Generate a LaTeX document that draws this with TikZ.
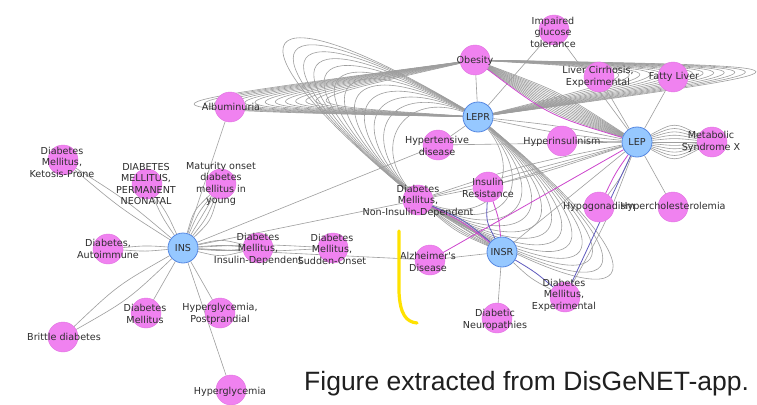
\documentclass[tikz,border=0pt]{standalone}
\usepackage{fontspec}
\newfontfamily\lblfont{DejaVu Sans}
\newfontfamily\capfont{Liberation Sans}
\usetikzlibrary{calc}
\pgfdeclarelayer{paper}
\pgfdeclarelayer{edgelayer}
\pgfsetlayers{paper,edgelayer,main}
\definecolor{disfill}{RGB}{240,130,240}
\definecolor{disline}{RGB}{225,115,225}
\definecolor{genefill}{RGB}{150,200,255}
\definecolor{geneline}{RGB}{85,135,225}
\definecolor{edgegray}{RGB}{158,158,158}
\definecolor{edgemag}{RGB}{205,70,205}
\definecolor{edgepur}{RGB}{95,90,190}
\definecolor{txt}{RGB}{45,45,45}
\definecolor{marker}{RGB}{255,226,0}

% several parallel edges between two nodes, bent by the given offsets (pt)
\newcommand\netbundle[4][edge]{%
  \foreach \k in {#4}{\draw[#1] (#2) .. controls ($(#2)!0.5!(#3)!\k pt!90:(#3)$) .. (#3);}}

\begin{document}
\begin{tikzpicture}[x=1pt,y=-1pt,
  dis/.style={circle,fill=disfill,draw=disline,line width=0.4pt,minimum size=30pt,inner sep=0pt},
  gene/.style={circle,fill=genefill,draw=geneline,line width=0.8pt,minimum size=30pt,inner sep=0pt,
    font=\lblfont\fontsize{9.6}{11.5}\selectfont,text=txt},
  lbl/.style={align=center,font=\lblfont\fontsize{9.6}{11.5}\selectfont,text=txt,inner sep=0pt},
  edge/.style={draw=edgegray,line width=0.6pt},
  magedge/.style={draw=edgemag,line width=0.8pt},
  puredge/.style={draw=edgepur,line width=0.8pt}]
\useasboundingbox (0,0) rectangle (757,404);
\begin{pgfonlayer}{paper}
  \fill[white] (0,0) rectangle (757,404);
\end{pgfonlayer}

% genes
\node[gene] (ins) at (183,248) {INS};
\node[gene] (insr) at (502,252) {INSR};
\node[gene] (lepr) at (478,117) {LEPR};
\node[gene] (lep) at (637,142) {LEP};

% diseases
\node[dis] (obes) at (475,60) {};
\node[dis] (igt) at (554,30) {};
\node[dis] (lcirr) at (599,77) {};
\node[dis] (fatty) at (673,77) {};
\node[dis] (mets) at (712,142) {};
\node[dis] (hypins) at (562,141) {};
\node[dis] (hypgon) at (599,207) {};
\node[dis] (hypchol) at (673,207) {};
\node[dis] (hyptens) at (438,145) {};
\node[dis] (insres) at (488,187) {};
\node[dis] (dmnid) at (418,200) {};
\node[dis] (alz) at (430,260) {};
\node[dis] (neuro) at (497,318) {};
\node[dis] (dmexp) at (565,297) {};
\node[dis] (dmso) at (333,248) {};
\node[dis] (dmid) at (258,248) {};
\node[dis] (mody) at (221,184) {};
\node[dis] (neon) at (147,184) {};
\node[dis] (keto) at (63,160) {};
\node[dis] (auto) at (108,249) {};
\node[dis] (brit) at (63,337) {};
\node[dis] (dm) at (146,313) {};
\node[dis] (hgpp) at (220,313) {};
\node[dis] (hg) at (231,390) {};
\node[dis] (albu) at (230,107) {};

\begin{pgfonlayer}{edgelayer}
  % INS neighbourhood
  \netbundle{ins}{keto}{-5,5}
  \netbundle{ins}{neon}{-3,3}
  \netbundle{ins}{mody}{-10,-5,0,5,10}
  \netbundle{ins}{dmid}{-9,-3,3,9}
  \netbundle{ins}{dmso}{-4,4}
  \netbundle{ins}{auto}{-3,3}
  \netbundle{ins}{brit}{-9,9}
  \draw[edge] (ins) -- (albu);
  \draw[edge] (ins) -- (hyptens);
  \draw[edge] (ins) -- (dmnid);
  \draw[edge] (ins) -- (alz);
  \draw[edge] (ins) -- (dm);
  \draw[edge] (ins) -- (hgpp);
  \draw[edge] (ins) -- (hg);
  % INSR neighbourhood
  \draw[edge] (alz) -- (insr);
  \draw[edge] (insr) -- (neuro);
  \netbundle{insr}{dmexp}{-5}
  \netbundle{dmnid}{insr}{-7,-5,-3,-1,1,3}
  % LEPR and LEP neighbourhood
  \draw[edge] (lepr) -- (obes);
  \draw[edge] (lepr) -- (hyptens);
  \draw[edge] (lepr) -- (igt);
  \netbundle{lepr}{lep}{-4,4}
  \netbundle{obes}{lep}{-14,-12,-10,-8,-6,-4,-2,0,2,4,6,8,10}
  \netbundle{lep}{mets}{-20,-16,-12,-8,-4,0,4,8,12,16,20}
  \draw[edge] (lep) -- (hypins);
  \draw[edge] (hyptens) -- (lep);
  \draw[edge] (lep) -- (fatty);
  \draw[edge] (lep) -- (lcirr);
  \draw[edge] (lep) -- (igt);
  \draw[edge] (lep) -- (hypchol);
  \netbundle{lep}{hypgon}{4}
  \netbundle{lep}{dmexp}{6}
  \netbundle{lep}{dmnid}{-7,0,7}
  \draw[edge] (lep) -- (insres);
  \draw[edge] (lep) -- (insr);
  % Obesity -- LEPR multi-edges, looping far to both sides
  \foreach \i in {0,...,13}{
    \pgfmathsetmacro\cx{281-176*\i/13}
    \pgfmathsetmacro\cy{104+5*\i/13}
    \draw[edge] (obes) .. controls (\cx,\cy) .. (lepr);
    \pgfmathsetmacro\dx{661+183*\i/13}
    \pgfmathsetmacro\dy{71-4.5*\i/13}
    \draw[edge] (obes) .. controls (\dx,\dy) .. (lepr);
  }
  % Diabetes Mellitus, Non-Insulin-Dependent -- LEPR multi-edges
  \foreach \i in {0,...,11}{
    \pgfmathsetmacro\d{73+188*\i/11}
    \draw[edge] (dmnid) .. controls ({430-0.817*\d},{183.4-0.577*\d})
      and ({466-0.817*\d},{133.6-0.577*\d}) .. (lepr);
    \draw[edge] (dmnid) .. controls ({430+0.817*\d},{183.4+0.577*\d})
      and ({466+0.817*\d},{133.6+0.577*\d}) .. (lepr);
  }
  % coloured associations
  \netbundle[magedge]{obes}{lep}{-16}
  \draw[magedge] (lep) -- (alz);
  \netbundle[magedge]{lep}{hypgon}{-3}
  \draw[puredge] (lep) -- (dmexp);
  \netbundle[magedge]{dmnid}{insr}{5}
  \netbundle[puredge]{dmnid}{insr}{7.5}
  \netbundle[puredge]{insres}{insr}{-9}
  \netbundle[magedge]{insres}{insr}{4}
  \netbundle[puredge]{insr}{dmexp}{3}
\end{pgfonlayer}

% labels
\node[lbl] (obes-l) at (475,61) {Obesity};
\node[lbl] (igt-l) at (553,32) {Impaired\\glucose\\tolerance};
\node[lbl] (lcirr-l) at (598,77) {Liver Cirrhosis,\\Experimental};
\node[lbl] (fatty-l) at (674,77) {Fatty Liver};
\node[lbl] (mets-l) at (711,142) {Metabolic\\Syndrome X};
\node[lbl] (hypins-l) at (562,142) {Hyperinsulinism};
\node[lbl] (hypgon-l) at (599,207) {Hypogonadism};
\node[lbl] (hypchol-l) at (673,207) {Hypercholesterolemia};
\node[lbl] (hyptens-l) at (437,146) {Hypertensive\\disease};
\node[lbl] (insres-l) at (488,188) {Insulin\\Resistance};
\node[lbl] (dmnid-l) at (418,201) {Diabetes\\Mellitus,\\Non-Insulin-Dependent};
\node[lbl] (alz-l) at (428,262) {Alzheimer's\\Disease};
\node[lbl] (neuro-l) at (495,320) {Diabetic\\Neuropathies};
\node[lbl] (dmexp-l) at (564,295) {Diabetes\\Mellitus,\\Experimental};
\node[lbl] (dmso-l) at (332,249) {Diabetes\\Mellitus,\\Sudden-Onset};
\node[lbl] (dmid-l) at (258,249) {Diabetes\\Mellitus,\\Insulin-Dependent};
\node[lbl] (mody-l) at (221,184) {Maturity onset\\diabetes\\mellitus in\\young};
\node[lbl] (neon-l) at (146,184) {DIABETES\\MELLITUS,\\PERMANENT\\NEONATAL};
\node[lbl] (keto-l) at (62,162) {Diabetes\\Mellitus,\\Ketosis-Prone};
\node[lbl] (auto-l) at (108,249) {Diabetes,\\Autoimmune};
\node[lbl] (brit-l) at (64,337) {Brittle diabetes};
\node[lbl] (dm-l) at (145,314) {Diabetes\\Mellitus};
\node[lbl] (hgpp-l) at (220,314) {Hyperglycemia,\\Postprandial};
\node[lbl] (hg-l) at (230,392) {Hyperglycemia};
\node[lbl] (albu-l) at (231,107) {Albuminuria};

% highlighter stroke
\draw[marker,line width=3.2pt,line cap=round] (399,231) -- (399,292)
  .. controls (400,314) and (406,322) .. (417,323);

% caption
\node[anchor=base west,inner sep=0pt,font=\capfont\fontsize{26.5}{30}\selectfont,text=black!88]
  (caption) at (304,390) {Figure extracted from DisGeNET-app.};
\end{tikzpicture}
\end{document}
